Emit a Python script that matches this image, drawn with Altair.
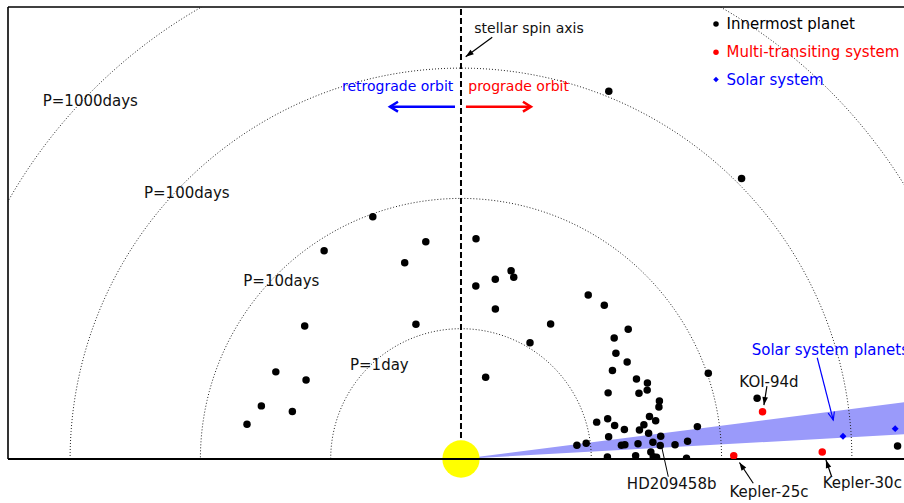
import numpy as np
import pandas as pd
import altair as alt

# Innermost planets: orbital period (days) and stellar obliquity psi (deg)
inner_period = [110.0, 111.0, 9.53, 8.19, 4.89, 3.69, 4.95, 2.54, 2.15, 1.52, 3.13, 2.83, 1.75, 1.09,
                3.76, 1.23, 3.72, 2.16, 0.452, 3.85, 2.21, 4.61, 10.2, 20.9, 225.0, 3.92, 4.1, 4.21,
                3.15, 2.75, 3.0, 2.22, 3.02, 3.51, 3.34, 2.86, 1.73, 3.86, 3.72, 1.2, 1.47, 1.61, 1.88,
                3.04, 3.33, 2.68, 2.44, 2.84, 1.4, 3.49, 6.78, 0.787, 0.93, 1.72, 1.83, 2.31, 3.01,
                3.41, 4.43, 5.55, 1.33, 2.19, 2.87, 2.99, 3.17, 5.38]
inner_obliquity = [68.1, 45.0, 110.0, 123.3, 99.2, 106.0, 86.1, 79.2, 85.1, 77.1, 75.1, 73.8, 56.4,
                   59.3, 139.6, 108.5, 154.8, 153.0, 73.2, 165.1, 164.3, 170.8, 19.1, 11.6, 1.7, 52.2,
                   47.0, 37.8, 38.3, 34.3, 30.3, 30.3, 24.5, 22.2, 20.3, 20.3, 24.2, 16.3, 14.7, 15.2,
                   15.3, 12.3, 10.2, 12.7, 11.1, 10.6, 9.2, 7.8, 8.6, 6.5, 7.8, 6.8, 7.2, 4.9, 5.0,
                   4.9, 5.0, 3.9, 3.8, 4.5, 0.8, 1.1, 2.1, 0.7, 0.5, 0.2]

# Multi-transiting systems
multi_names = ["KOI-94d", "Kepler-25c", "Kepler-30c"]
multi_period = [22.0, 12.4, 59.3]
multi_obliquity = [8.9, 0.7, 1.1]

# Solar system planets (Mercury, Venus) and the obliquity range of all planets
solar_names = ["Mercury", "Venus"]
solar_period = [86.5, 219.0]
solar_obliquity = [3.4, 4.0]
solar_band = [3.2, 7.3]

# Period rings and their labels (label anchor in plot units, left aligned)
ring_period = [1, 10, 100, 1000]
ring_labels = ["P=1day", "P=10days", "P=100days", "P=1000days"]
ring_label_x = [-0.852, -1.671, -2.433, -3.21]
ring_label_y = [0.724, 1.368, 2.044, 2.747]

XDOM = [-3.4766, 3.40]
YDOM = [0.0, 3.469]
STAR_R = 0.161  # star radius in plot units

xs = alt.Scale(domain=XDOM, nice=False, zero=False)
ys = alt.Scale(domain=YDOM, nice=False, zero=False)
X = lambda f: alt.X(f, type="quantitative", scale=xs, axis=None)
Y = lambda f: alt.Y(f, type="quantitative", scale=ys, axis=None)

def polar(chart):
    return chart.transform_calculate(
        r="log(datum.period)/LN10 + 1"
    ).transform_calculate(
        x="datum.r*cos(datum.psi*PI/180)",
        y="datum.r*sin(datum.psi*PI/180)",
    )

# solar-system obliquity wedge
band_df = pd.DataFrame({"x": [0.0, 3.6]})
band = alt.Chart(band_df).mark_area(color="#9a9afa", opacity=1, clip=True).transform_calculate(
    y=f"datum.x*tan({solar_band[0]}*PI/180)",
    y2=f"datum.x*tan({solar_band[1]}*PI/180)",
).encode(x=X("x"), y=Y("y"), y2="y2:Q")

# dotted period rings
theta = np.arange(0, 181, 1.0)
ring_df = pd.DataFrame([{"period": p, "psi": t} for p in ring_period for t in theta])
rings = polar(alt.Chart(ring_df).mark_line(
    color="#222", strokeWidth=1, strokeDash=[1, 2], clip=True
)).encode(x=X("x"), y=Y("y"), detail="period:N", order="psi:Q")

# stellar spin axis
spin = alt.Chart(pd.DataFrame({"x": [0.0], "y": [STAR_R], "y2": [YDOM[1]]})).mark_rule(
    color="black", strokeWidth=2, strokeDash=[6, 3]
).encode(x=X("x"), y=Y("y"), y2="y2:Q")

# frame: left and top borders, bottom base line
frame_df = pd.DataFrame({
    "x": [XDOM[0], XDOM[0], XDOM[0]], "x2": [XDOM[0], XDOM[1], XDOM[1]],
    "y": [YDOM[0], YDOM[1], YDOM[0]], "y2": [YDOM[1], YDOM[1], YDOM[0]],
    "w": [1.6, 1.6, 2.0],
})
frame = alt.Chart(frame_df).mark_rule(color="black").encode(
    x=X("x"), x2="x2:Q", y=Y("y"), y2="y2:Q", strokeWidth=alt.StrokeWidth("w:Q", scale=None)
)
frame_lr = frame.transform_filter("datum.w < 2")
base = frame.transform_filter("datum.w >= 2")

# host star
star = alt.Chart(pd.DataFrame({"x": [0.0], "y": [0.0]})).mark_circle(
    color="#ffff00", opacity=1, size=1390
).encode(x=X("x"), y=Y("y"))

inner_df = pd.DataFrame({"period": inner_period, "psi": inner_obliquity})
multi_df = pd.DataFrame({"name": multi_names, "period": multi_period, "psi": multi_obliquity})
solar_df = pd.DataFrame({"name": solar_names, "period": solar_period, "psi": solar_obliquity})

inner = polar(alt.Chart(inner_df).mark_circle(color="black", opacity=1, size=56, clip=True)).encode(
    x=X("x"), y=Y("y"))
multi = polar(alt.Chart(multi_df).mark_circle(color="#ff0000", opacity=1, size=56, clip=True)).encode(
    x=X("x"), y=Y("y"))
solar = polar(alt.Chart(solar_df).mark_point(shape="diamond", filled=True, color="#0000ff",
                                            opacity=1, size=48, clip=True)).encode(x=X("x"), y=Y("y"))

# annotation arrows (plot units)
arrow_df = pd.DataFrame({
    "x0": [0.240, -0.046, 0.038, 2.734, 2.348, 2.243, 2.845, 1.591],
    "y0": [3.236, 2.704, 2.704, 0.777, 0.560, -0.186, -0.136, -0.136],
    "x1": [0.036, -0.545, 0.537, 2.857, 2.325, 2.137, 2.801, 1.540],
    "y1": [3.087, 2.704, 2.704, 0.299, 0.414, -0.027, -0.008, 0.094],
    "col": ["black", "#0000ff", "#ff0000", "#0000ff", "black", "black", "black", "black"],
    "w": [1.2, 2.5, 2.5, 1.2, 1.2, 1.2, 1.2, 1.0],
    "head": ["fill", "open", "open", "thin", "fill", "fill", "fill", "none"],
})
arrow_df["ang"] = (np.degrees(np.arctan2(arrow_df.x1 - arrow_df.x0, arrow_df.y1 - arrow_df.y0)) + 360) % 360

shafts = alt.Chart(arrow_df).mark_rule().encode(
    x=X("x0"), y=Y("y0"), x2="x1:Q", y2="y1:Q",
    color=alt.Color("col:N", scale=None), strokeWidth=alt.StrokeWidth("w:Q", scale=None))

def heads(kind, path, size, filled, sw):
    return alt.Chart(arrow_df).transform_filter(f"datum.head == '{kind}'").mark_point(
        shape=path, size=size, filled=filled, opacity=1, strokeWidth=sw
    ).encode(x=X("x1"), y=Y("y1"), angle=alt.Angle("ang:Q", scale=None),
             color=alt.Color("col:N", scale=None))

head_fill = heads("fill", "M0,0L-0.7,2L0.7,2Z", 64, True, 0)
head_open = heads("open", "M-0.62,1L0,0L0.62,1", 256, False, 2.5)
head_thin = heads("thin", "M-0.4,1L0,0L0.4,1", 256, False, 1.2)

# text annotations
text_df = pd.DataFrame({
    "label": ring_labels + ["stellar spin axis", "prograde orbit", "Solar system planets", "Kepler-30c",
                            "retrograde orbit", "KOI-94d", "HD209458b", "Kepler-25c"],
    "x": ring_label_x + [0.102, 0.056, 2.231, 2.776, -0.059, 2.364, 1.617, 2.364],
    "y": ring_label_y + [3.298, 2.857, 0.837, -0.186, 2.857, 0.593, -0.194, -0.251],
    "col": ["#111"] * 4 + ["#111", "#ff0000", "#0000ff", "#111", "#0000ff", "#111", "#111", "#111"],
    "fs": [15, 15, 15, 15, 14, 14, 15, 15, 14, 15, 15, 15],
    "al": ["left"] * 8 + ["right", "center", "center", "center"],
})

def texts(al):
    return alt.Chart(text_df).transform_filter(f"datum.al == '{al}'").mark_text(
        align=al, baseline="middle", font="DejaVu Sans"
    ).encode(x=X("x"), y=Y("y"), text="label:N", color=alt.Color("col:N", scale=None),
             size=alt.Size("fs:Q", scale=None))

# legend (top right)
legend_labels = ["Innermost planet", "Multi-transiting system", "Solar system"]
legend_colors = ["black", "#ff0000", "#0000ff"]
legend_shapes = ["circle", "circle", "diamond"]
legend_rows = [17, 45.3, 72.5]
leg_df = pd.DataFrame({"label": legend_labels, "col": legend_colors, "shape": legend_shapes,
                       "py": legend_rows})
leg_marks = alt.Chart(leg_df).mark_point(filled=True, opacity=1, size=30).encode(
    x=alt.value(708), y=alt.Y("py:Q", scale=None),
    color=alt.Color("col:N", scale=None), shape=alt.Shape("shape:N", scale=None))
leg_text = alt.Chart(leg_df).mark_text(align="left", baseline="middle", font="DejaVu Sans",
                                       fontSize=15).encode(
    x=alt.value(718.5), y=alt.Y("py:Q", scale=None), text="label:N",
    color=alt.Color("col:N", scale=None))

chart = alt.layer(
    band, rings, spin, frame_lr, star, base,
    inner, multi, solar,
    shafts, head_fill, head_open, head_thin,
    texts("left"), texts("right"), texts("center"),
    leg_marks, leg_text,
).properties(
    width=896, height=452,
    padding={"left": 8, "top": 7, "right": 0, "bottom": 44},
    autosize=alt.AutoSizeParams(type="none"),
    background="white",
).configure_view(stroke=None)

chart.save("out.html", embed_options={"renderer": "svg", "actions": False})
